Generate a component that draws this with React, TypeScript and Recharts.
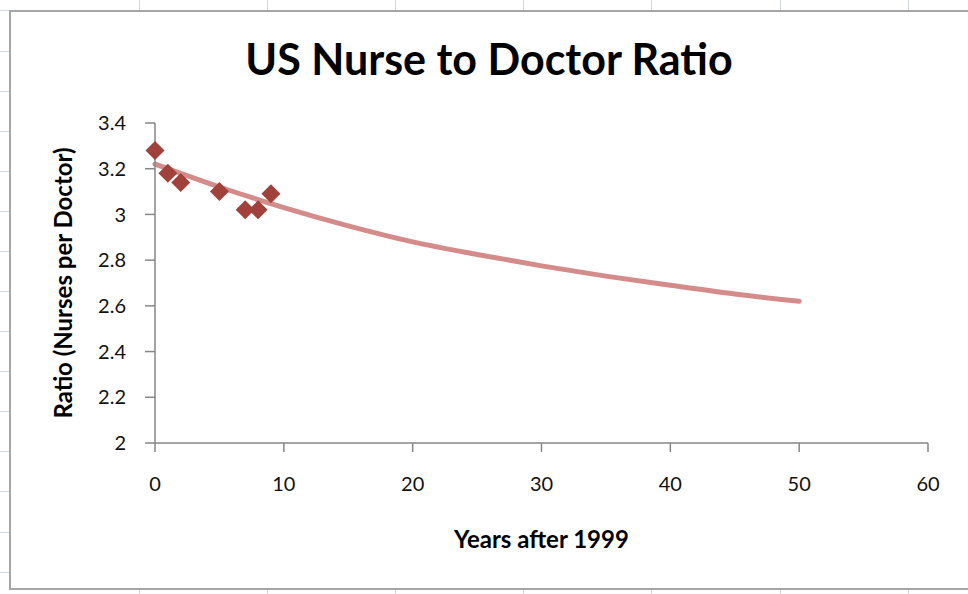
import React from 'react';
import { ComposedChart, Scatter, Line, XAxis, YAxis } from 'recharts';

// Observed data points: years after 1999 vs nurses per doctor
const years = [0, 1, 2, 5, 7, 8, 9];
const ratios = [3.28, 3.18, 3.14, 3.1, 3.02, 3.02, 3.09];

// Trendline
const trendYears = [0, 5, 10, 15, 20, 25, 30, 35, 40, 45, 50];
const trendRatios = [3.22, 3.12, 3.03, 2.95, 2.88, 2.825, 2.775, 2.73, 2.69, 2.652, 2.62];

const xTicks = [0, 10, 20, 30, 40, 50, 60];
const yTicks = [2, 2.2, 2.4, 2.6, 2.8, 3, 3.2, 3.4];

const title = 'US Nurse to Doctor Ratio';
const xTitle = 'Years after 1999';
const yTitle = 'Ratio (Nurses per Doctor)';

const points = years.map((x, i) => ({ x, y: ratios[i] }));
const trend = trendYears.map((x, i) => ({ x, y: trendRatios[i] }));

const FONT = 'Lato, "Open Sans", sans-serif';
const GRID = '#D0D7E5';
const colLines = [139, 267, 395, 523, 651, 780, 908];
const rowLines = [10, 51, 91, 131, 171, 211, 251, 291, 331, 371, 411, 451, 491, 532, 572];

const Diamond = (props: any) => {
  const { cx, cy } = props;
  if (cx == null || cy == null) return null;
  const r = 9.5;
  return (
    <polygon
      points={`${cx},${cy - r} ${cx + r},${cy} ${cx},${cy + r} ${cx - r},${cy}`}
      fill="#A0413C"
    />
  );
};

export default function App() {
  return (
    <div style={{ position: 'absolute', left: 0, top: 0, width: 968, height: 594, background: '#fff', overflow: 'hidden' }}>
      {colLines.map((x) => (
        <div key={'c' + x} style={{ position: 'absolute', left: x, top: 0, width: 1, height: 594, background: GRID }} />
      ))}
      {rowLines.map((y) => (
        <div key={'r' + y} style={{ position: 'absolute', left: 0, top: y, width: 968, height: 1, background: GRID }} />
      ))}
      <div
        style={{
          position: 'absolute',
          left: 9,
          top: 10,
          width: 980,
          height: 576,
          background: '#fff',
          border: '2px solid #A6A6A6',
        }}
      />
      <div
        style={{
          position: 'absolute',
          left: 10,
          top: 33,
          width: 958,
          textAlign: 'center',
          fontFamily: FONT,
          fontWeight: 700,
          fontSize: 43,
          lineHeight: '52px',
          color: '#000',
          whiteSpace: 'nowrap',
        }}
      >
        {title}
      </div>
      <div style={{ position: 'absolute', left: 0, top: 0 }}>
        <ComposedChart width={968} height={594} margin={{ top: 123, right: 40, bottom: 111, left: 95 }}>
          <XAxis
            type="number"
            dataKey="x"
            domain={[0, 60]}
            ticks={xTicks}
            interval={0}
            stroke="#868686"
            strokeWidth={1.5}
            tickSize={9}
            tickMargin={25}
            height={40}
            tick={{ fill: '#111', fontSize: 20, fontFamily: FONT }}
            label={{
              content: ({ viewBox }: any) => (
                <text
                  x={viewBox.x + viewBox.width / 2}
                  y={viewBox.y + 105}
                  textAnchor="middle"
                  fontFamily={FONT}
                  fontWeight={700}
                  fontSize={24}
                  fill="#000"
                >
                  {xTitle}
                </text>
              ),
            }}
          />
          <YAxis
            type="number"
            dataKey="y"
            domain={[2, 3.4]}
            ticks={yTicks}
            interval={0}
            width={60}
            stroke="#868686"
            strokeWidth={1.5}
            tickSize={10}
            tickMargin={19}
            tick={{ fill: '#111', fontSize: 20, fontFamily: FONT }}
            label={{
              content: ({ viewBox }: any) => {
                const cx = viewBox.x - 33;
                const cy = viewBox.y + viewBox.height / 2;
                return (
                  <text
                    x={cx}
                    y={cy}
                    transform={`rotate(-90 ${cx} ${cy})`}
                    textAnchor="middle"
                    dominantBaseline="central"
                    fontFamily={FONT}
                    fontWeight={700}
                    fontSize={24}
                    fill="#000"
                  >
                    {yTitle}
                  </text>
                );
              },
            }}
          />
          <Line
            data={trend}
            dataKey="y"
            type="monotone"
            stroke="#D48C8B"
            strokeWidth={5}
            strokeLinecap="round"
            dot={false}
            activeDot={false}
            isAnimationActive={false}
          />
          <Scatter data={points} dataKey="y" shape={<Diamond />} isAnimationActive={false} />
        </ComposedChart>
      </div>
    </div>
  );
}
